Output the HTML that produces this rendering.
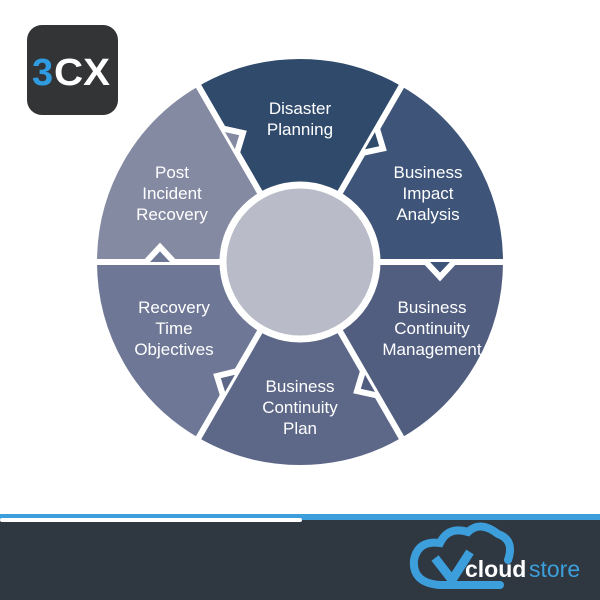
<!DOCTYPE html>
<html><head><style>
html,body{margin:0;padding:0;background:#fff;width:600px;height:600px;overflow:hidden}
</style></head><body>
<svg width="600" height="600" viewBox="0 0 600 600" xmlns="http://www.w3.org/2000/svg" font-family="Liberation Sans, sans-serif">
<rect width="600" height="600" fill="#fff"/>
<!-- logo -->
<rect x="27" y="25" width="91" height="90" rx="15" fill="#333436"/>
<text x="32" y="85" font-size="38" font-weight="bold" fill="#2f9be0">3</text>
<text x="54" y="85" font-size="38" font-weight="bold" fill="#fff" textLength="56" lengthAdjust="spacingAndGlyphs">CX</text>
<!-- sectors -->
<g stroke="#fff" stroke-width="6" stroke-linejoin="round">
<path d="M300 262 L403 83.6 A206 206 0 0 0 197 83.6 Z" fill="#304a6c"/>
<path d="M300 262 L506 262 A206 206 0 0 0 403 83.6 Z" fill="#3e5479"/>
<path d="M300 262 L403 440.4 A206 206 0 0 0 506 262 Z" fill="#515e80"/>
<path d="M300 262 L197 440.4 A206 206 0 0 0 403 440.4 Z" fill="#5d6888"/>
<path d="M300 262 L94 262 A206 206 0 0 0 197 440.4 Z" fill="#6e7896"/>
<path d="M300 262 L197 83.6 A206 206 0 0 0 94 262 Z" fill="#858aa3"/>
</g>
<!-- notches -->
<g>
<polygon points="426,262 454,262 440,277" fill="#3e5479"/>
<polyline points="426,262 440,277 454,262" fill="none" stroke="#fff" stroke-width="6"/>
<polygon points="363,152.8 377,128.6 383,148.5" fill="#304a6c"/>
<polyline points="363,152.8 383,148.5 377,128.6" fill="none" stroke="#fff" stroke-width="6"/>
<polygon points="237,152.8 223,128.6 243,133" fill="#858aa3"/>
<polyline points="237,152.8 243,133 223,128.6" fill="none" stroke="#fff" stroke-width="6"/>
<polygon points="174,262 146,262 160,247" fill="#6e7896"/>
<polyline points="174,262 160,247 146,262" fill="none" stroke="#fff" stroke-width="6"/>
<polygon points="237,371.2 223,395.4 217,376" fill="#5d6888"/>
<polyline points="237,371.2 217,376 223,395.4" fill="none" stroke="#fff" stroke-width="6"/>
<polygon points="363,371.2 377,395.4 357,391" fill="#515e80"/>
<polyline points="363,371.2 357,391 377,395.4" fill="none" stroke="#fff" stroke-width="6"/>
</g>
<circle cx="300" cy="262" r="77" fill="#b9bcc8" stroke="#fff" stroke-width="7"/>
<!-- labels -->
<g fill="#fff" font-size="17" text-anchor="middle">
<text x="300" y="114">Disaster</text><text x="300" y="135">Planning</text>
<text x="428" y="178">Business</text><text x="428" y="199">Impact</text><text x="428" y="220">Analysis</text>
<text x="432" y="313">Business</text><text x="432" y="334">Continuity</text><text x="432" y="355">Management</text>
<text x="300" y="392">Business</text><text x="300" y="413">Continuity</text><text x="300" y="434">Plan</text>
<text x="174" y="313">Recovery</text><text x="174" y="334">Time</text><text x="174" y="355">Objectives</text>
<text x="172" y="178">Post</text><text x="172" y="199">Incident</text><text x="172" y="220">Recovery</text>
</g>
<!-- footer -->
<rect x="0" y="515" width="600" height="85" fill="#2f3740"/>
<rect x="0" y="514" width="600" height="6" fill="#3c9fdc"/>
<rect x="0" y="518" width="302" height="4" rx="2" fill="#fff"/>
<path d="M440 585 Q412 583 414 560 Q418 540 440 543 Q448 526 468 532 Q480 520 498 534 Q515 540 508 560" fill="none" stroke="#3c9fdc" stroke-width="8" stroke-linecap="round"/>
<path d="M440 585 L500 585" stroke="#3c9fdc" stroke-width="8" stroke-linecap="round"/>
<path d="M435 558 L452 580 L470 552" fill="none" stroke="#3c9fdc" stroke-width="9"/>
<text x="465" y="577" font-size="23" font-weight="bold" fill="#fff">cloud</text>
<text x="529" y="577" font-size="23" fill="#3c9fdc">store</text>
</svg>
</body></html>
